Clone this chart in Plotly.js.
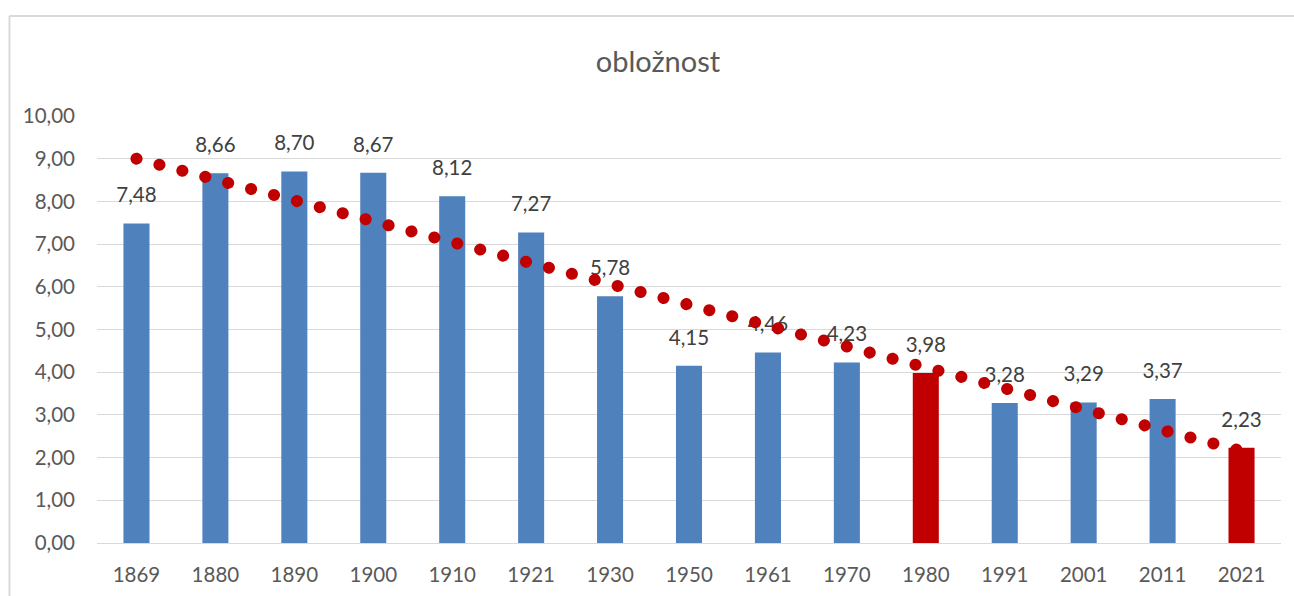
<!DOCTYPE html>
<html>
<head>
<meta charset="utf-8">
<script src="https://cdn.plot.ly/plotly-3.0.1.min.js"></script>
<style>
html,body{margin:0;padding:0;background:#fff;}
#chart{width:1294px;height:596px;}
.scatterlayer .trace:last-child .js-line{stroke-linecap:round !important;}
</style>
</head>
<body>
<div id="chart"></div>
<script>
const years = ["1869","1880","1890","1900","1910","1921","1930","1950","1961","1970","1980","1991","2001","2011","2021"];
const values = [7.48,8.66,8.70,8.67,8.12,7.27,5.78,4.15,4.46,4.23,3.98,3.28,3.29,3.37,2.23];
const highlighted = ["1980","2021"];
const yTicks = [0,1,2,3,4,5,6,7,8,9,10];

const BLUE = "#4F81BD", RED = "#C00000";
const barColors = years.map(y => highlighted.includes(y) ? RED : BLUE);

// linear trendline (least squares over category index), like Excel's trendline
const n = values.length;
const xm = (n - 1) / 2;
const ym = values.reduce((a, b) => a + b, 0) / n;
let sxy = 0, sxx = 0;
values.forEach((v, i) => { sxy += (i - xm) * (v - ym); sxx += (i - xm) * (i - xm); });
const slope = sxy / sxx;
const intercept = ym - slope * xm;
const trendX = [years[0], years[n - 1]];
const trendY = [intercept, intercept + slope * (n - 1)];

const fmt = v => v.toFixed(2).replace(".", ",");

const traces = [
  {
    type: "bar",
    x: years,
    y: values,
    marker: {color: barColors},
    hoverinfo: "x+y"
  },
  {
    // data labels above bars (drawn below the trendline, like the original)
    type: "scatter",
    mode: "markers+text",
    x: years,
    y: values,
    text: values.map(fmt),
    textposition: "top center",
    textfont: {family: "Lato, sans-serif", size: 20.5, color: "#404040"},
    marker: {size: 24, color: "rgba(0,0,0,0)"},
    cliponaxis: false,
    hoverinfo: "skip"
  },
  {
    type: "scatter",
    mode: "lines",
    x: trendX,
    y: trendY,
    line: {color: RED, width: 12, dash: "0.1px,23.6px"},
    hoverinfo: "skip"
  }
];

const layout = {
  width: 1294,
  height: 596,
  margin: {l: 97, r: 13, t: 116, b: 53},
  paper_bgcolor: "#ffffff",
  plot_bgcolor: "#ffffff",
  showlegend: false,
  bargap: 0.67,
  separators: ",.",
  title: {
    text: "obložnost",
    font: {family: "Lato, sans-serif", size: 29, color: "#595959"},
    x: 0.5085, xref: "container", xanchor: "center",
    y: 0.896, yref: "container", yanchor: "middle"
  },
  xaxis: {
    type: "category",
    range: [-0.5, years.length - 0.5],
    showgrid: false,
    showline: false,
    zeroline: false,
    ticks: "",
    ticklabelstandoff: 17,
    tickfont: {family: "Lato, sans-serif", size: 20.5, color: "#595959"}
  },
  yaxis: {
    range: [0, 10],
    tickvals: yTicks,
    ticktext: yTicks.map(fmt),
    showgrid: true,
    gridcolor: "#D9D9D9",
    gridwidth: 1,
    zeroline: true,
    zerolinecolor: "#D9D9D9",
    zerolinewidth: 1,
    showline: false,
    ticks: "",
    ticklabelstandoff: 21,
    tickfont: {family: "Lato, sans-serif", size: 20.5, color: "#595959"}
  },
  shapes: [
    {type: "line", xref: "paper", yref: "paper", x0: -0.0739, x1: 1.02, y0: 1.2342, y1: 1.2342,
     line: {color: "#D9D9D9", width: 2}},
    {type: "line", xref: "paper", yref: "paper", x0: -0.0739, x1: -0.0739, y0: 1.2342, y1: -0.13,
     line: {color: "#D9D9D9", width: 2}}
  ]
};

Plotly.newPlot("chart", traces, layout, {displayModeBar: false, staticPlot: true});
</script>
</body>
</html>
